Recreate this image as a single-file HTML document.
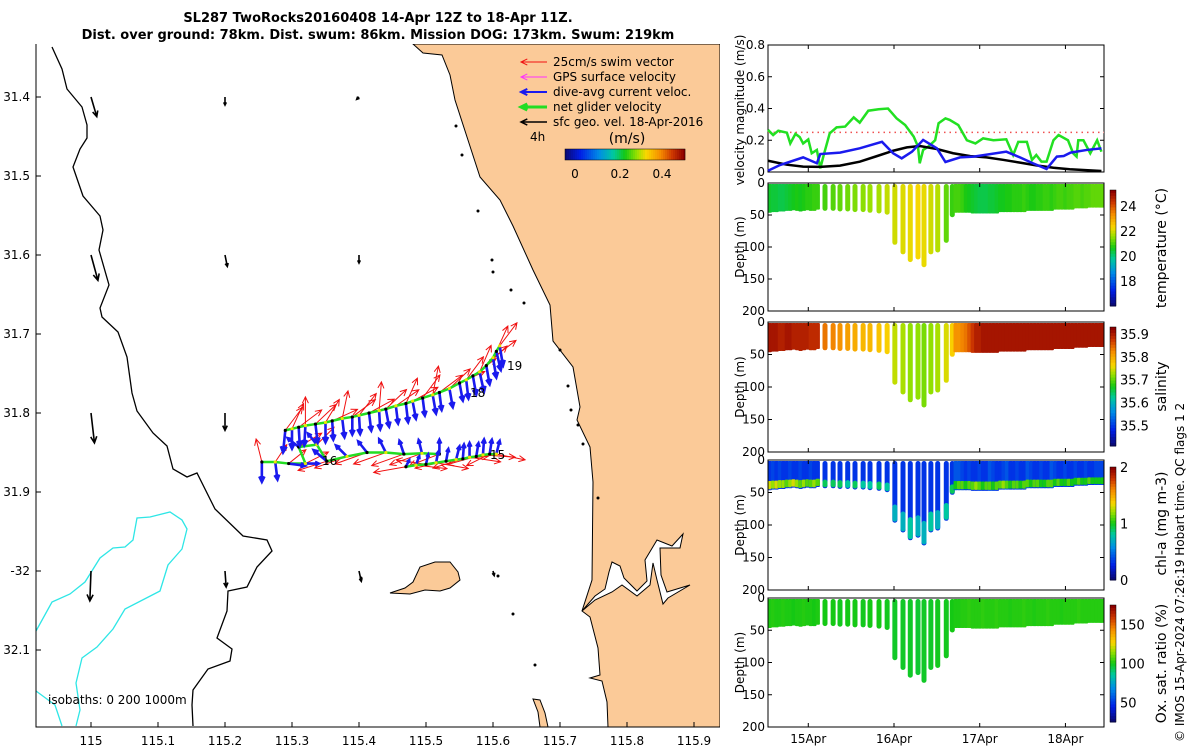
<!DOCTYPE html>
<html><head><meta charset="utf-8"><style>
html,body{margin:0;padding:0;background:#fff;}
svg{display:block;font-family:"DejaVu Sans","Liberation Sans",sans-serif;}
</style></head><body>
<svg id="fig" width="1200" height="750" viewBox="0 0 1200 750" xmlns="http://www.w3.org/2000/svg">
<text x="378" y="22" text-anchor="middle" font-weight="bold" font-size="13">SL287 TwoRocks20160408 14-Apr 12Z to 18-Apr 11Z.</text>
<text x="378" y="39" text-anchor="middle" font-weight="bold" font-size="13">Dist. over ground: 78km. Dist. swum: 86km. Mission DOG: 173km. Swum: 219km</text>
<g id="map"></g>
<g id="vel"></g>
<g id="sect"></g>
<text transform="translate(1184,742) rotate(-90)" font-size="12">© IMOS 15-Apr-2024 07:26:19 Hobart time. QC flags 1  2</text>
</svg>
<script>
// ---------- velocity data ----------
const greenT=[14.53,14.59,14.65,14.75,14.79,14.85,14.90,14.94,15.00,15.04,15.10,15.14,15.18,15.25,15.33,15.43,15.53,15.60,15.70,15.82,15.93,16.03,16.13,16.23,16.28,16.30,16.34,16.40,16.48,16.52,16.60,16.65,16.75,16.85,16.95,17.04,17.16,17.31,17.39,17.45,17.55,17.61,17.66,17.72,17.78,17.86,17.92,18.03,18.09,18.13,18.15,18.21,18.29,18.37,18.42];
const greenV=[0.265,0.233,0.26,0.248,0.18,0.24,0.22,0.18,0.205,0.118,0.139,0.023,0.107,0.244,0.281,0.286,0.344,0.311,0.386,0.395,0.40,0.338,0.296,0.223,0.16,0.055,0.139,0.16,0.20,0.307,0.338,0.328,0.296,0.20,0.18,0.212,0.20,0.206,0.107,0.19,0.19,0.076,0.107,0.065,0.065,0.20,0.233,0.20,0.118,0.097,0.20,0.20,0.118,0.20,0.128];
const blueT=[14.53,14.67,14.94,15.10,15.14,15.37,15.60,15.86,15.99,16.09,16.21,16.34,16.50,16.60,16.77,16.93,17.31,17.47,17.62,17.78,17.90,17.98,18.06,18.25,18.42];
const blueV=[0.008,0.044,0.092,0.055,0.113,0.122,0.149,0.19,0.118,0.086,0.128,0.202,0.149,0.063,0.092,0.097,0.128,0.092,0.055,0.019,0.097,0.101,0.122,0.139,0.149];
const blackT=[14.53,14.75,14.94,15.14,15.37,15.60,15.80,15.99,16.15,16.30,16.50,16.69,16.89,17.08,17.28,17.47,17.66,17.86,18.05,18.42];
const blackV=[0.071,0.046,0.034,0.032,0.04,0.065,0.10,0.134,0.155,0.164,0.145,0.118,0.10,0.092,0.076,0.059,0.042,0.027,0.017,0.006];
const swimRef=0.25;
const velTicks=[0,0.2,0.4,0.6,0.8];
// ---------- section data ----------
const profT=[14.55,14.59,14.63,14.67,14.71,14.75,14.79,14.83,14.87,14.91,14.95,14.99,15.03,15.07,15.11,
15.195,15.29,15.37,15.46,15.545,15.64,15.72,15.825,15.92,16.01,16.105,16.19,16.28,16.35,16.43,16.51,16.61,16.68,
16.72,16.76,16.80,16.84,16.88,16.92,16.96,17.00,17.04,17.08,17.12,17.16,17.20,17.24,17.28,17.32,17.36,17.40,17.44,17.48,17.52,17.56,17.60,17.64,17.68,17.72,17.76,17.80,17.84,17.88,17.92,17.96,18.00,18.04,18.08,18.12,18.16,18.20,18.24,18.28,18.32,18.36,18.40,18.43];
const profDepth=[45,44,44,43,43,42,42,41,42,43,42,41,42,42,40,
42,42,43,43,44,44,45,46,48,95,110,122,118,130,110,107,92,52,
45,45,45,45,45,46,46,46,46,46,46,46,46,44,44,44,44,44,44,44,44,42,42,42,42,42,42,42,42,40,40,40,40,40,40,38,38,38,38,37,37,37,37];
const profTemp=[20.5,20.4,20.4,20.3,20.3,20.4,20.5,20.6,20.7,20.6,20.7,20.8,20.8,20.9,20.9,
21.0,21.1,21.2,21.3,21.4,21.5,21.6,21.7,21.9,22.0,22.1,22.2,22.3,22.2,22.0,21.8,21.2,20.9,
21.0,21.0,20.9,20.7,20.6,20.5,20.4,20.3,20.3,20.3,20.4,20.4,20.5,20.6,20.6,20.7,20.7,20.8,20.8,20.8,20.9,20.8,20.7,20.7,20.8,20.8,20.9,20.9,20.8,20.9,21.0,21.0,20.9,21.0,21.0,21.1,21.1,21.0,21.1,21.1,21.2,21.2,21.2];
const profSal=[35.91,35.91,35.91,35.90,35.90,35.91,35.91,35.90,35.90,35.90,35.90,35.90,35.89,35.89,35.89,
35.84,35.83,35.82,35.81,35.80,35.79,35.79,35.78,35.77,35.74,35.73,35.72,35.72,35.71,35.72,35.73,35.75,35.77,
35.82,35.82,35.83,35.84,35.86,35.88,35.90,35.90,35.91,35.91,35.91,35.91,35.91,35.91,35.91,35.91,35.91,35.91,35.91,35.91,35.91,35.91,35.91,35.91,35.91,35.91,35.91,35.91,35.91,35.91,35.91,35.91,35.91,35.91,35.91,35.91,35.91,35.91,35.91,35.91,35.91,35.91];
const profChlTop=[0.3,0.35,0.3,0.35,0.3,0.3,0.35,0.3,0.3,0.35,0.3,0.3,0.35,0.3,0.3,
0.3,0.3,0.3,0.3,0.3,0.3,0.3,0.3,0.3,0.3,0.3,0.3,0.3,0.3,0.3,0.3,0.3,0.3,
0.4,0.4,0.35,0.3,0.35,0.3,0.3,0.35,0.3,0.3,0.4,0.35,0.3,0.3,0.35,0.4,0.3,0.3,0.35,0.3,0.3,0.4,0.35,0.3,0.3,0.35,0.3,0.3,0.4,0.35,0.3,0.3,0.35,0.3,0.3,0.35,0.3,0.3,0.35,0.3,0.3,0.35];
const profChlBot=[1.3,1.2,1.3,1.2,1.2,1.1,1.2,1.3,1.2,1.1,1.2,1.1,1.1,1.2,1.1,
0.9,0.9,0.9,0.8,0.9,0.8,0.8,0.9,0.8,0.7,0.7,0.8,0.7,0.7,0.8,0.7,0.8,0.9,
1.0,1.1,1.1,1.0,1.1,1.1,1.2,1.1,1.0,1.1,1.1,1.0,1.1,1.1,1.2,1.1,1.0,1.1,1.1,1.0,1.1,1.1,1.0,1.1,1.1,1.0,1.0,1.1,1.1,1.0,1.1,1.0,1.0,1.1,1.0,1.0,1.1,1.0,1.0,1.1,1.0,1.0];
const profOx=[101,102,101,101,102,101,101,100,101,101,102,101,101,100,101,
100,100,99,100,100,99,100,100,99,98,98,98,97,98,98,99,99,100,
101,101,102,102,103,102,102,102,103,102,102,102,103,102,102,102,101,102,102,102,103,102,102,101,102,102,102,103,102,102,102,101,102,102,102,102,103,102,102,102,102,102];
const depthTicks=[0,50,100,150,200];
const dayTicks=[15,16,17,18];
const dayLabels=["15Apr","16Apr","17Apr","18Apr"];
// ---------- map data ----------
const lonTicks=[115,115.1,115.2,115.3,115.4,115.5,115.6,115.7,115.8,115.9];
const latTicks=[31.4,31.5,31.6,31.7,31.8,31.9,32.0,32.1];
const latLabels=["31.4","31.5","31.6","31.7","31.8","31.9","-32","32.1"];
const geoLon=[115,115,115,115,115.2,115.2,115.2,115.2,115.4,115.4,115.4,115.6];
const geoLat=[31.4,31.6,31.8,32.0,31.4,31.6,31.8,32.0,31.4,31.6,32.0,32.0];
const geoU=[0.05,0.06,0.03,-0.01,0,0.02,0,0.01,-0.02,0,0.02,0.01];
const geoV=[-0.17,-0.22,-0.26,-0.26,-0.07,-0.10,-0.15,-0.14,-0.02,-0.07,-0.09,-0.04];
const upLon=[115.29,115.30,115.31,115.32,115.335,115.35,115.36,115.375,115.39,115.40,115.415,115.43,115.44,115.455,115.47,115.48,115.495,115.51,115.52,115.535,115.55,115.56,115.57,115.58,115.59,115.60,115.605,115.61];
const upLat=[31.822,31.820,31.818,31.816,31.814,31.812,31.810,31.807,31.805,31.803,31.800,31.797,31.795,31.791,31.788,31.785,31.781,31.777,31.774,31.769,31.762,31.758,31.753,31.748,31.740,31.730,31.722,31.715];
const upSwimU=[0.15,0.1,0.2,0.0,0.18,0.12,0.22,0.05,0.2,0.15,0.22,0.02,0.18,0.2,0.1,0.22,0.15,0.05,0.2,0.18,0.22,0.15,0.2,0.1,0.18,0.2,0.1,0.15];
const upSwimV=[0.2,0.22,0.15,0.25,0.17,0.2,0.1,0.24,0.15,0.19,0.12,0.25,0.17,0.14,0.22,0.12,0.2,0.25,0.15,0.17,0.1,0.2,0.15,0.23,0.17,0.15,0.22,0.2];
const upCurU=[-0.02,0.0,0.01,-0.01,0.02,0.0,0.01,0.02,0.0,0.01,0.02,0.01,0.03,0.02,0.02,0.03,0.02,0.03,0.02,0.03,0.03,0.02,0.03,0.04,0.03,0.03,0.04,0.03];
const upCurV=[-0.2,-0.18,-0.17,-0.18,-0.17,-0.18,-0.17,-0.17,-0.16,-0.17,-0.16,-0.17,-0.16,-0.16,-0.17,-0.16,-0.16,-0.17,-0.16,-0.17,-0.16,-0.17,-0.17,-0.18,-0.17,-0.18,-0.17,-0.18];
const midLon=[115.255,115.275,115.295,115.32,115.31,115.337,115.352,115.382,115.412,115.44,115.467,115.494,115.52];
const midLat=[31.862,31.862,31.864,31.864,31.843,31.840,31.861,31.855,31.850,31.850,31.852,31.851,31.852];
const midSwimU=[-0.05,0.1,0.15,0.2,0.2,0.15,-0.25,-0.28,-0.28,-0.28,-0.28,-0.28,-0.26];
const midSwimV=[0.2,0.15,0.12,0.1,0.12,0.15,-0.08,-0.1,-0.1,-0.1,-0.1,-0.1,-0.1];
const midCurU=[0.0,0.02,0.15,0.12,-0.1,-0.08,-0.12,-0.1,-0.08,-0.06,-0.04,-0.03,0.0];
const midCurV=[-0.18,-0.16,-0.02,0.0,0.08,0.1,0.1,0.1,0.1,0.12,0.12,0.12,0.13];
const loLon=[115.47,115.485,115.50,115.515,115.53,115.545,115.555,115.565,115.575,115.585,115.595,115.605];
const loLat=[31.868,31.866,31.865,31.863,31.861,31.859,31.858,31.856,31.855,31.853,31.852,31.852];
const loSwimU=[-0.28,0.27,-0.26,0.28,-0.27,0.28,-0.26,0.27,-0.25,0.28,-0.2,0.25];
const loSwimV=[-0.05,-0.03,0.04,-0.05,-0.06,0.03,-0.08,-0.04,-0.07,-0.02,-0.1,-0.05];
const loCurU=[0.03,0.03,0.02,0.02,0.02,0.03,0.01,0.0,0.02,0.01,0.02,0.03];
const loCurV=[0.06,0.08,0.09,0.1,0.11,0.12,0.13,0.13,0.12,0.14,0.13,0.12];

const NS="http://www.w3.org/2000/svg";
function mk(parent,tag,attrs,text){const e=document.createElementNS(NS,tag);for(const k in attrs)e.setAttribute(k,attrs[k]);if(text!==undefined)e.textContent=text;parent.appendChild(e);return e;}
const CM=[[0,[10,10,120]],[0.12,[0,30,230]],[0.28,[0,140,230]],[0.4,[0,200,160]],[0.5,[20,200,20]],[0.6,[150,225,0]],[0.68,[250,215,0]],[0.8,[245,140,0]],[0.9,[205,55,0]],[1,[140,0,0]]];
function jet(t){if(!isFinite(t))t=0.5;t=Math.max(0,Math.min(1,t));for(let i=1;i<CM.length;i++){if(t<=CM[i][0]){const a=CM[i-1],b=CM[i],f=(t-a[0])/(b[0]-a[0]);const c=a[1].map((v,k)=>Math.round(v+(b[1][k]-v)*f));return `rgb(${c[0]},${c[1]},${c[2]})`;}}return "rgb(140,0,0)";}
function pick(arr,i){return arr[Math.min(i,arr.length-1)];}
function arrow(g,x1,y1,x2,y2,col,w,name){
  const a=Math.atan2(y2-y1,x2-x1),L=Math.hypot(x2-x1,y2-y1),h=Math.min(7,Math.max(3,L*0.3));
  const p=mk(g,"path",{d:`M${x1},${y1}L${x2},${y2}M${x2-h*Math.cos(a-0.45)},${y2-h*Math.sin(a-0.45)}L${x2},${y2}L${x2-h*Math.cos(a+0.45)},${y2-h*Math.sin(a+0.45)}`,stroke:col,"stroke-width":w,fill:"none"});
  
  
  return p;}

// ---------- MAP ----------
const map=document.getElementById("map");
const mx=lon=>91+(lon-115)*670, my=lat=>97+(lat-31.4)*790;
const MX0=36,MX1=720,MY0=44,MY1=727;
const cp=mk(map,"clipPath",{id:"mclip"});mk(cp,"rect",{x:MX0,y:MY0,width:MX1-MX0,height:MY1-MY0});
const mg=mk(map,"g",{"clip-path":"url(#mclip)"});
const land=mk(mg,"path",{d:"M413,44 L423,53 L442,55 L450,75 L455,100 L467,137 L480,177 L500,200 L513,226 L533,270 L550,305 L553,341 L573,367 L580,407 L577,420 L590,447 L593,482 L592,580 L582,611 L590,617 L598,648 L600,675 L590,678 L602,681 L607,702 L608,727 L720,727 L720,44 Z",fill:"#fbca98",stroke:"#000","stroke-width":1});

const lake=mk(mg,"path",{d:"M582,611 L595,596 L605,589 L609,572 L612,562 L620,566 L624,578 L637,591 L647,581 L645,560 L657,540 L672,546 L683,534 L680,548 L660,548 L661,575 L667,592 L690,585 L668,598 L663,604 L657,580 L653,563 L650,585 L637,596 L622,585 L612,592 L595,600 Z",fill:"#fff",stroke:"#000","stroke-width":1});

const isl=mk(mg,"path",{d:"M390,593 L405,588 L413,582 L420,567 L435,562 L450,562 L458,572 L460,580 L450,588 L440,591 L425,590 L410,594 Z",fill:"#fbca98",stroke:"#000","stroke-width":1});

const pen=mk(mg,"path",{d:"M533,699 L540,700 L545,713 L548,727 L540,727 L538,712 Z",fill:"#fbca98",stroke:"#000","stroke-width":1});

const iso200=mk(mg,"polyline",{points:"52,47 62,69 67,89 82,107 87,125 87,138 80,149 73,167 83,196 100,216 103,230 99,250 109,285 100,308 102,317 118,332 127,357 132,393 137,411 153,433 167,446 173,469 187,477 197,473 215,509 243,536 267,540 272,551 257,567 247,587 228,591 227,611 217,638 232,649 230,661 208,669 193,690 192,705 193,726",fill:"none",stroke:"#000","stroke-width":1.3});

const iso1k=mk(mg,"polyline",{points:"36,631 52,602 70,594 85,582 100,558 113,548 125,547 133,540 137,518 150,517 170,512 182,520 187,529 182,549 168,565 160,591 125,609 113,629 97,647 82,658 76,683 80,710 76,726",fill:"none",stroke:"#2ee6e6","stroke-width":1.3});

const iso1k2=mk(mg,"polyline",{points:"36,691 55,705 62,726",fill:"none",stroke:"#2ee6e6","stroke-width":1.3});

[[456,126],[462,155],[478,211],[492,260],[493,272],[511,290],[524,303],[560,350],[568,386],[571,410],[578,425],[583,444],[598,498],[498,576],[513,614],[535,665],[361,578]].forEach(p=>{const r=mk(mg,"circle",{cx:p[0],cy:p[1],r:1.5,fill:"#000"});});
const GS=115;
for(let i=0;i<geoLon.length;i++){const x=mx(geoLon[i]),y=my(geoLat[i]);arrow(mg,x,y,x+geoU[i]*GS,y-geoV[i]*GS,"#000",1.6,"geo-velocity-arrow");}
const SS=115,CS=110;
function leg(lon,lat,su,sv,cu,cv,name){
  const pts=lon.map((l,i)=>mx(l)+","+my(lat[i])).join(" ");
  for(let i=0;i<lon.length;i++){const x=mx(lon[i]),y=my(lat[i]);arrow(mg,x,y,x+su[i]*SS,y-sv[i]*SS,"#f01010",1,"swim-vector");}
  const tr=mk(mg,"polyline",{points:pts,fill:"none",stroke:"#22dd22","stroke-width":2.5});
  
  for(let i=0;i<lon.length;i++){const x=mx(lon[i]),y=my(lat[i]);arrow(mg,x,y,x+cu[i]*CS,y-cv[i]*CS,"#1a1aee",2.6,"current-vector");
    const d=mk(mg,"circle",{cx:x,cy:y,r:1.6,fill:i%2?"#e8e800":"#000"});}
}
leg(midLon,midLat,midSwimU,midSwimV,midCurU,midCurV,"middle-leg");
leg(loLon,loLat,loSwimU,loSwimV,loCurU,loCurV,"lower-leg");
leg(upLon,upLat,upSwimU,upSwimV,upCurU,upCurV,"upper-leg");
[["19",507,370],["15",490,459],["16",322,465],["18",470,397]].forEach(l=>{const t=mk(mg,"text",{x:l[1],y:l[2],"font-size":12},l[0]);});
const ax=mk(map,"path",{d:`M${MX0},${MY0}L${MX0},${MY1}L${MX1},${MY1}`,stroke:"#000","stroke-width":1,fill:"none"});

lonTicks.forEach(l=>{const x=mx(l);mk(map,"line",{x1:x,x2:x,y1:MY1,y2:MY1-5,stroke:"#000"});const t=mk(map,"text",{x:x,y:745,"font-size":12,"text-anchor":"middle"},String(l));});
latTicks.forEach((l,i)=>{const y=my(l);mk(map,"line",{x1:MX0,x2:MX0+5,y1:y,y2:y,stroke:"#000"});const t=mk(map,"text",{x:30,y:y+4,"font-size":12,"text-anchor":"end"},latLabels[i]);});
const iso=mk(map,"text",{x:48,y:704,"font-size":12},"isobaths: 0   200  1000m");
const legItems=[["25cm/s swim vector","#f01010",1],["GPS surface velocity","#ff30ff",1],["dive-avg current veloc.","#1a1aee",2],["net glider velocity","#22dd22",3],["sfc geo. vel. 18-Apr-2016","#000",1.5]];
legItems.forEach((it,i)=>{const y=62+i*15;arrow(map,547,y,521,y,it[1],it[2],"legend-arrow");const t=mk(map,"text",{x:553,y:y+4,"font-size":12},it[0]);});
const t4=mk(map,"text",{x:530,y:141,"font-size":12},"4h");
const tu=mk(map,"text",{x:627,y:143,"font-size":14,"text-anchor":"middle"},"(m/s)");
for(let i=0;i<60;i++){mk(map,"rect",{x:565+i*2,y:149,width:2.2,height:11,fill:jet(i/59)});}
mk(map,"rect",{x:565,y:149,width:120,height:11,fill:"none",stroke:"#000","stroke-width":0.5});
[["0",575],["0.2",620],["0.4",662]].forEach(l=>{const t=mk(map,"text",{x:l[1],y:178,"font-size":12,"text-anchor":"middle"},l[0]);});

// ---------- RIGHT PANELS ----------
const PX0=768,PX1=1104,T0=14.53,T1=18.45;
const px=t=>PX0+(t-T0)/(T1-T0)*(PX1-PX0);
const vel=document.getElementById("vel");
const VY0=45,VY1=172,vy=v=>VY1-v/0.8*(VY1-VY0);
function frame(g,y0,y1,name){const r=mk(g,"rect",{x:PX0,y:y0,width:PX1-PX0,height:y1-y0,fill:"none",stroke:"#000","stroke-width":1});
 dayTicks.forEach(d=>{const x=px(d);mk(g,"line",{x1:x,x2:x,y1:y1,y2:y1-4,stroke:"#000"});mk(g,"line",{x1:x,x2:x,y1:y0,y2:y0+4,stroke:"#000"});});}
frame(vel,VY0,VY1,"velocity-axes");
velTicks.forEach(v=>{const y=vy(v);mk(vel,"line",{x1:PX0,x2:PX0+4,y1:y,y2:y,stroke:"#000"});mk(vel,"line",{x1:PX1,x2:PX1-4,y1:y,y2:y,stroke:"#000"});const t=mk(vel,"text",{x:765,y:y+4,"font-size":12,"text-anchor":"end"},String(v));});
const vl=mk(vel,"text",{transform:"translate(744,110) rotate(-90)","font-size":12,"text-anchor":"middle"},"velocity magnitude (m/s)");
const ref=mk(vel,"line",{x1:px(T0),x2:px(T1),y1:vy(swimRef),y2:vy(swimRef),stroke:"#f05050","stroke-width":1.5,"stroke-dasharray":"1.5 4"});
function series(T,V,col,name){const p=mk(vel,"polyline",{points:T.map((t,i)=>px(t)+","+vy(V[i])).join(" "),fill:"none",stroke:col,"stroke-width":2.5});}
series(greenT,greenV,"#22e022","net-glider-velocity-line");
series(blackT,blackV,"#000","geostrophic-velocity-line");
series(blueT,blueV,"#1a1aee","current-velocity-line");

const sect=document.getElementById("sect");
const panels=[
 {y0:183,y1:311,name:"temperature",label:"temperature (°C)",vmin:16.0,vmax:25.3,cb:[190,306],ticks:[[24,"24"],[22,"22"],[20,"20"],[18,"18"]]},
 {y0:322,y1:452,name:"salinity",label:"salinity",vmin:35.41,vmax:35.93,cb:[327,446],ticks:[[35.9,"35.9"],[35.8,"35.8"],[35.7,"35.7"],[35.6,"35.6"],[35.5,"35.5"]]},
 {y0:460,y1:590,name:"chlorophyll",label:"chl-a (mg m-3)",vmin:0,vmax:2,cb:[467,580],ticks:[[2,"2"],[1,"1"],[0,"0"]]},
 {y0:598,y1:727,name:"oxygen",label:"Ox. sat. ratio (%)",vmin:25,vmax:175,cb:[605,722],ticks:[[150,"150"],[100,"100"],[50,"50"]]}];
panels.forEach((P,pi)=>{
 const g=mk(sect,"g",{});
 const pc=mk(g,"clipPath",{id:"pclip"+pi});mk(pc,"rect",{x:PX0,y:P.y0,width:PX1-PX0,height:P.y1-P.y0});
 const gd=mk(g,"g",{"clip-path":`url(#pclip${pi})`});
 const dy=d=>P.y0+d/200*(P.y1-P.y0);
 const cn=v=>jet((v-P.vmin)/(P.vmax-P.vmin));
 const arr=[profTemp,profSal,profChlTop,profOx][pi];
 for(let i=0;i<profT.length;i++){
  const isCol=(i>=15&&i<33);const w=isCol?5:4.4;const x=px(profT[i])-w/2;
  const val=pick(arr,i),dep=pick(profDepth,i);
  const r=mk(gd,"rect",{x:x,y:dy(0)+1,width:w,height:dy(dep)-dy(0),rx:isCol?2.5:1,fill:cn(val)});
  
  if(pi===2){const b=mk(gd,"rect",{x:x,y:dy(dep*0.72),width:w,height:dy(dep)-dy(dep*0.72),rx:isCol?2.5:1,fill:cn(pick(profChlBot,i))});}
 }
 frame(g,P.y0,P.y1,P.name+'-axes');
 depthTicks.forEach(d=>{const y=dy(d);mk(g,"line",{x1:PX0,x2:PX0+4,y1:y,y2:y,stroke:"#000"});mk(g,"line",{x1:PX1,x2:PX1-4,y1:y,y2:y,stroke:"#000"});const t=mk(g,"text",{x:765,y:y+4,"font-size":12,"text-anchor":"end"},String(d));});
 const dl=mk(g,"text",{transform:`translate(744,${(P.y0+P.y1)/2}) rotate(-90)`,"font-size":12,"text-anchor":"middle"},"Depth (m)");
 const n=40,h=(P.cb[1]-P.cb[0])/n;
 for(let k=0;k<n;k++)mk(g,"rect",{x:1110,y:P.cb[0]+k*h,width:6,height:h+0.5,fill:jet(1-k/(n-1))});
 const cbf=mk(g,"rect",{x:1110,y:P.cb[0],width:6,height:P.cb[1]-P.cb[0],fill:"none",stroke:"#000","stroke-width":0.5});
 P.ticks.forEach(tk=>{const y=P.cb[1]-(tk[0]-P.vmin)/(P.vmax-P.vmin)*(P.cb[1]-P.cb[0]);const t=mk(g,"text",{x:1120,y:y+5,"font-size":13},tk[1]);});
 const cl=mk(g,"text",{transform:`translate(1166,${(P.cb[0]+P.cb[1])/2}) rotate(-90)`,"font-size":14,"text-anchor":"middle"},P.label);
});
dayTicks.forEach((d,i)=>{const t=mk(sect,"text",{x:px(d),y:743,"font-size":12,"text-anchor":"middle"},dayLabels[i]);});
</script>
</body></html>
